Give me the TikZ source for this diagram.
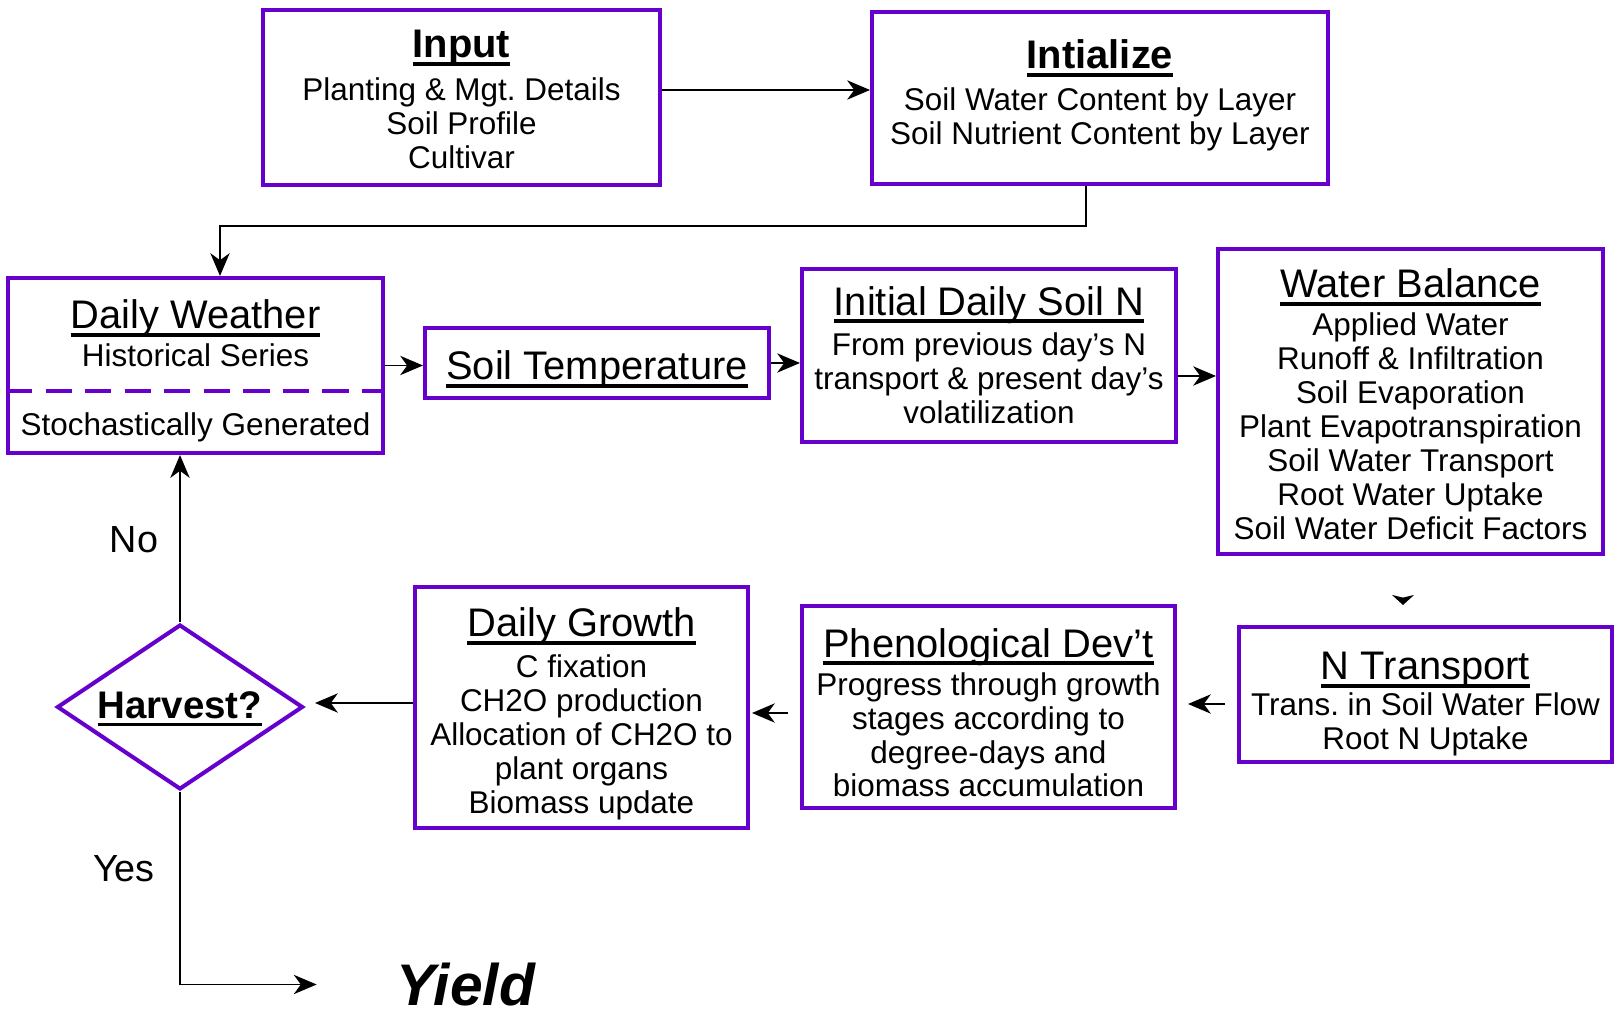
\documentclass[tikz,border=0pt]{standalone}
\usepackage{fontspec}
\setmainfont{Liberation Sans}
\frenchspacing
\usetikzlibrary{arrows.meta,positioning,shapes.geometric}
\definecolor{boxpurple}{HTML}{6600CC}
\newcommand\bodyfont{\fontsize{17.9}{19.3}\selectfont}
\newcommand\headfont{\fontsize{22.7}{24}\selectfont}
\newcommand\boxhead[1]{\setbox0\hbox{#1}\rlap{\rule[-4.6pt]{\wd0}{2.2pt}}\box0}

\begin{document}
\begin{tikzpicture}[x=0.02cm,y=-0.02cm,font=\bodyfont,
  box/.style={draw=boxpurple,line width=2.3pt,inner sep=0pt},
  txt/.style={align=center},
  dec/.style={diamond,draw=boxpurple,line width=2.3pt,inner sep=0pt,aspect=1.5,
              minimum width=4.92cm,minimum height=3.3cm},
  a/.style={-{Stealth[length=13pt,width=11pt,inset=4pt]},line width=0.9pt},
  lbl/.style={font=\fontsize{21.5}{24}\selectfont}]
\useasboundingbox (0,0) rectangle (1617,1013);

% boxes
\node[box,minimum width=7.94cm,minimum height=3.5cm](In) at (461.5,97.5){};
\node[box,minimum width=9.12cm,minimum height=3.44cm](Init) at (1100,98){};
\node[box,minimum width=7.5cm,minimum height=3.5cm](DW) at (195.5,365.5){};
\node[box,minimum width=6.88cm,minimum height=1.4cm](ST) at (597,363){};
\node[box,minimum width=7.48cm,minimum height=3.46cm](ISN) at (989,355.5){};
\node[box,minimum width=7.7cm,minimum height=6.1cm](WB) at (1410.5,401.5){};
\node[box,minimum width=7.46cm,minimum height=2.7cm](NT) at (1425.5,694.5){};
\node[box,minimum width=7.46cm,minimum height=4.04cm](Phen) at (988.5,707){};
\node[box,minimum width=6.66cm,minimum height=4.82cm](DG) at (581.5,707.5){};
\node[dec](Hv) at (180,707){};
\draw[boxpurple,line width=2.3pt,dash pattern=on 15pt off 7.5pt]
  ([yshift=-.51cm]DW.west) -- ([yshift=-.51cm]DW.east);

% texts
\node[txt](inT) at (461.5,99.5){\boxhead{\headfont\bfseries Input}\\[5.3pt]Planting \& Mgt. Details\\Soil Profile\\Cultivar};
\node[txt](initT) at (1100,95.4){\boxhead{\headfont\bfseries Intialize}\\[4.7pt]Soil Water Content by Layer\\Soil Nutrient Content by Layer};
\node[txt](dwT) at (195.5,333.4){\boxhead{\headfont Daily Weather}\\[2.4pt]Historical Series};
\node[txt](dwS) at (195.5,427){Stochastically Generated};
\node[txt](stT) at (597,369.2){\boxhead{\headfont Soil Temperature}};
\node[txt](isnT) at (989,355){\boxhead{\headfont Initial Daily Soil N}\\[3.6pt]From previous day’s N\\transport \& present day’s\\volatilization};
\node[txt](wbT) at (1410.5,404){\boxhead{\headfont Water Balance}\\[2.4pt]Applied Water\\Runoff \& Infiltration\\Soil Evaporation\\Plant Evapotranspiration\\Soil Water Transport\\Root Water Uptake\\Soil Water Deficit Factors};
\node[txt](ntT) at (1425.5,704.3){\boxhead{\headfont N Transport}\\[1.3pt]Trans. in Soil Water Flow\\Root N Uptake};
\node[txt](phT) at (988.5,712.7){\boxhead{\headfont Phenological Dev’t}\\[2.4pt]Progress through growth\\stages according to\\degree-days and\\biomass accumulation};
\node[txt](dgT) at (581.5,713.7){\boxhead{\headfont Daily Growth}\\[4.2pt]C fixation\\CH2O production\\Allocation of CH2O to\\plant organs\\Biomass update};
\node[txt](hvT) at (180,709){\boxhead{\fontsize{21.9}{24}\selectfont\bfseries Harvest?}};

\node[lbl](no) at (134,540){No};
\node[lbl](yes) at (124,869){Yes};
\node[font=\fontsize{33.4}{36}\selectfont\bfseries\itshape,inner sep=0pt](Yld) at (466,984.5){Yield};

% connectors
\draw[a] ([yshift=.15cm]In.east) -- ([yshift=.15cm]In.east -| Init.west);
\draw[a] ([xshift=-.28cm]Init.south) -- ++(0,40) -| ([xshift=.49cm]DW.north);
\draw[a] (DW.east) -- (DW.east -| ST.west);
\draw[a] (ST.east) -- (ST.east -| ISN.west);
\draw[a] ([yshift=-.41cm]ISN.east) -- ([yshift=-.41cm]ISN.east -| WB.west);
\draw[-{Stealth[length=5.7pt,width=12.5pt,inset=1.5pt]},line width=0.9pt,shorten <=.84cm,shorten >=.40cm]
  ([xshift=-.15cm]WB.south) -- ([xshift=-.15cm]WB.south |- NT.north);
\draw[a,shorten <=.24cm,shorten >=.22cm] ([yshift=-.19cm]NT.west) -- ([yshift=-.19cm]NT.west -| Phen.east);
\draw[a,shorten <=.24cm,shorten >=.04cm] ([yshift=-.12cm]Phen.west) -- ([yshift=-.12cm]Phen.west -| DG.east);
\draw[a,shorten >=.2cm] ([yshift=.09cm]DG.west) -- ([yshift=.09cm]DG.west -| Hv.east);
\draw[a] (Hv.north) -- (Hv.north |- DW.south);
\draw[a,shorten >=1.6cm] (Hv.south) |- (Yld.west);
\end{tikzpicture}
\end{document}
